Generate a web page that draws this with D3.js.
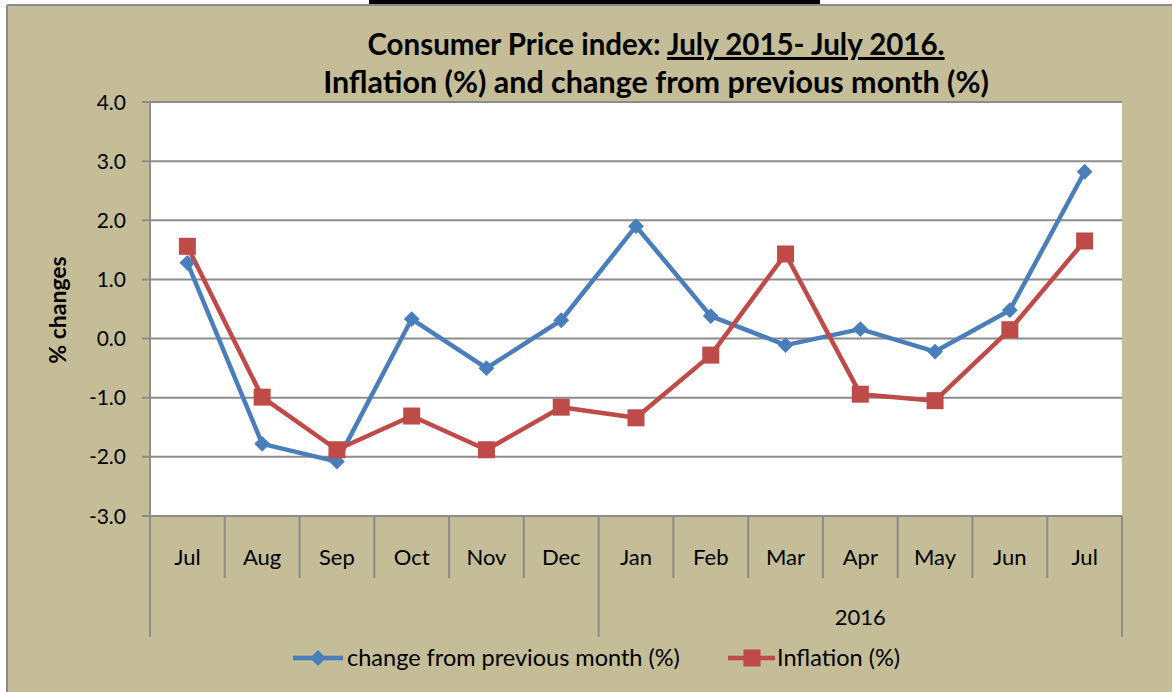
<!DOCTYPE html>
<html><head><meta charset="utf-8">
<script src="https://cdn.jsdelivr.net/npm/d3@7"></script>
<style>body{margin:0;background:#fff}svg{display:block}text{font-family:Lato,"Open Sans",sans-serif}</style>
</head><body>
<script>
const months = ["Jul","Aug","Sep","Oct","Nov","Dec","Jan","Feb","Mar","Apr","May","Jun","Jul"];
const groups = [{label:"", start:0, end:5},{label:"2016", start:6, end:12}];
const changeFromPrev = [1.28,-1.78,-2.08,0.33,-0.50,0.31,1.90,0.38,-0.11,0.16,-0.22,0.48,2.82];
const inflation = [1.56,-0.99,-1.88,-1.31,-1.88,-1.16,-1.34,-0.28,1.43,-0.94,-1.05,0.15,1.65];
const yTicks = [4,3,2,1,0,-1,-2,-3];
const seriesNames = ["change from previous month (%)","Inflation (%)"];

const W=1172,H=692;
const svg=d3.select("body").append("svg").attr("width",W).attr("height",H);
svg.append("rect").attr("x",0).attr("y",0).attr("width",W).attr("height",H).attr("fill","#fff");
svg.append("rect").attr("x",7).attr("y",5).attr("width",W).attr("height",H).attr("fill","#C4BD97");
svg.append("line").attr("x1",7).attr("x2",W).attr("y1",5).attr("y2",5).attr("stroke","#8a8a8a").attr("stroke-width",2);
svg.append("line").attr("x1",7).attr("x2",7).attr("y1",5).attr("y2",H).attr("stroke","#8a8a8a").attr("stroke-width",2);
svg.append("rect").attr("x",369).attr("y",0).attr("width",451).attr("height",4).attr("fill","#000");

const L=150,R=1122,T=102,B=516;
const x=d3.scaleBand().domain(d3.range(months.length)).range([L,R]);
const y=d3.scaleLinear().domain([-3,4]).range([B,T]);
svg.append("rect").attr("x",L).attr("y",T).attr("width",R-L).attr("height",B-T).attr("fill","#fff");

svg.append("g").selectAll("line").data(yTicks).join("line")
 .attr("x1",L-8).attr("x2",R).attr("y1",d=>y(d)).attr("y2",d=>y(d))
 .attr("stroke","#8c8c8c").attr("stroke-width",2);
svg.append("line").attr("x1",L).attr("x2",L).attr("y1",T).attr("y2",637).attr("stroke","#8c8c8c").attr("stroke-width",2);
svg.append("g").selectAll("text").data(yTicks).join("text")
 .attr("x",126).attr("y",d=>y(d)).attr("dy","0.36em").attr("text-anchor","end")
 .attr("font-size",21).attr("fill","#000").text(d=>d.toFixed(1));
svg.append("text").attr("transform","translate(66,310) rotate(-90)").attr("text-anchor","middle")
 .attr("font-size",23).attr("font-weight","bold").text("% changes");

const edges=d3.range(months.length+1).map(i=>i<months.length?x(i):x(months.length-1)+x.bandwidth());
svg.append("g").selectAll("line").data(edges).join("line")
 .attr("x1",d=>d).attr("x2",d=>d).attr("y1",B).attr("y2",578)
 .attr("stroke","#8c8c8c").attr("stroke-width",2);
svg.append("g").selectAll("text").data(months).join("text")
 .attr("x",(d,i)=>x(i)+x.bandwidth()/2).attr("y",557).attr("dy","0.36em").attr("text-anchor","middle")
 .attr("font-size",22).text(d=>d);
const gEdges=[x(groups[0].start), x(groups[1].start), x(groups[1].end)+x.bandwidth()];
svg.append("g").selectAll("line").data(gEdges).join("line")
 .attr("x1",d=>d).attr("x2",d=>d).attr("y1",578).attr("y2",637)
 .attr("stroke","#8c8c8c").attr("stroke-width",2);
svg.append("g").selectAll("text").data(groups).join("text")
 .attr("x",d=>(x(d.start)+x(d.end)+x.bandwidth())/2).attr("y",617).attr("dy","0.36em").attr("text-anchor","middle")
 .attr("font-size",22).text(d=>d.label);

const cx=i=>x(i)+x.bandwidth()/2;
const line=d3.line().x((d,i)=>cx(i)).y(d=>y(d));
const blue="#4A7EBB", red="#BE4B48";
svg.append("path").attr("d",line(changeFromPrev)).attr("fill","none").attr("stroke",blue).attr("stroke-width",4.5).attr("stroke-linejoin","round");
svg.append("path").attr("d",line(inflation)).attr("fill","none").attr("stroke",red).attr("stroke-width",4.5).attr("stroke-linejoin","round");
const diamond=d3.symbol().type(d3.symbolDiamond2).size(160);
svg.append("g").selectAll("path").data(changeFromPrev).join("path")
 .attr("transform",(d,i)=>`translate(${cx(i)},${y(d)})`).attr("d",diamond()).attr("fill",blue);
svg.append("g").selectAll("rect").data(inflation).join("rect")
 .attr("x",(d,i)=>cx(i)-8.5).attr("y",d=>y(d)-8.5).attr("width",17).attr("height",17).attr("fill",red);

const t=svg.append("text").attr("x",656).attr("y",55).attr("text-anchor","middle").attr("font-size",29.5).attr("font-weight","bold");
t.append("tspan").text("Consumer Price index: ");
t.append("tspan").attr("text-decoration","underline").text("July 2015- July 2016.");
svg.append("text").attr("x",656).attr("y",93).attr("text-anchor","middle").attr("font-size",30.5).attr("font-weight","bold")
 .text("Inflation (%) and change from previous month (%)");

const lg=svg.append("g");
lg.append("line").attr("x1",293).attr("x2",343).attr("y1",658).attr("y2",658).attr("stroke",blue).attr("stroke-width",4.5);
lg.append("path").attr("transform","translate(318,658)").attr("d",diamond()).attr("fill",blue);
lg.append("text").attr("x",347).attr("y",658).attr("dy","0.36em").attr("font-size",23.5).text(seriesNames[0]);
lg.append("line").attr("x1",728).attr("x2",775).attr("y1",658).attr("y2",658).attr("stroke",red).attr("stroke-width",4.5);
lg.append("rect").attr("x",752-8.5).attr("y",658-8.5).attr("width",17).attr("height",17).attr("fill",red);
lg.append("text").attr("x",777).attr("y",658).attr("dy","0.36em").attr("font-size",23.5).text(seriesNames[1]);
</script>
</body></html>
